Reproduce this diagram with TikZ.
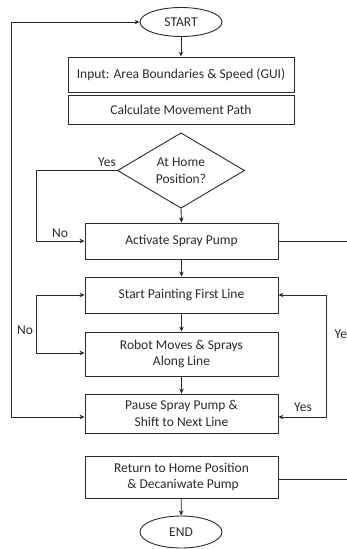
\documentclass[tikz,border=0pt]{standalone}
\usepackage{fontspec}
\setmainfont{Carlito}
\usetikzlibrary{shapes.geometric,arrows.meta}
\definecolor{ink}{HTML}{2A2A2A}
\begin{document}
\begin{tikzpicture}[x=1pt,y=-1pt,
  every node/.style={font=\fontsize{13.5}{16.5}\selectfont, text=ink},
  box/.style={draw=ink, line width=0.9pt, rectangle, minimum width=193pt, inner sep=0pt, align=center},
  term/.style={draw=ink, line width=0.9pt, ellipse, minimum width=82pt, inner sep=0pt},
  dec/.style={draw=ink, line width=0.9pt, diamond, minimum width=127pt, minimum height=75pt, inner sep=0pt, align=center},
  conn/.style={draw=ink, line width=0.9pt},
  arr/.style={conn, -{Stealth[length=5pt,width=4.5pt]}},
  arrb/.style={conn, {Stealth[length=5pt,width=4.5pt]}-{Stealth[length=5pt,width=4.5pt]}},
  lbl/.style={inner sep=0pt}
]
\clip (0,0) rectangle (347,549);
\useasboundingbox (0,0) rectangle (347,549);
\fill[white] (0,0) rectangle (347,549);

\node[term, minimum height=29pt] (start) at (181,22) {START};
\node[box, minimum width=226pt, minimum height=35pt] (input) at (181,74.5) {Input: Area Boundaries \& Speed (GUI)};
\node[box, minimum width=226pt, minimum height=29pt] (calc) at (181,109.5) {Calculate Movement Path};
\node[dec] (dia) at (181,170.5) {At Home\\Position?};
\node[box, minimum height=36pt] (act) at (181.5,241) {Activate Spray Pump};
\node[box, minimum height=36pt] (paint) at (181.5,295) {Start Painting First Line};
\node[box, minimum height=44pt] (robot) at (181.5,354) {Robot Moves \& Sprays\\Along Line};
\node[box, minimum height=39pt] (pause) at (181.5,413.5) {Pause Spray Pump \&\\Shift to Next Line};
\node[box, minimum height=42pt] (ret) at (181.5,477) {Return to Home Position\\\ \& Decaniwate Pump};
\node[term, minimum height=32pt] (end) at (181,532) {END};

\coordinate (actout) at (347,241);
\coordinate (retout) at (347,479);

\draw[arr] (start) -- (input);
\draw[arr] (dia.south) -- (act.north);
\draw[arr] (act) -- (paint);
\draw[arr] (paint) -- (robot);
\draw[arr] (robot) -- (pause);
\draw[arr] (ret) -- (end);

\draw[arrb] ([yshift=-3.5pt]pause.west) -- ++(-73,0) |- (start.west);
\draw[arr] (dia.west) -- ++(-81,0) |- (act.west);
\draw[arrb] (paint.west) -- ++(-48,0) |- ([yshift=1pt]robot.west);
\draw[arrb] (paint.east) -- ++(47.5,0) |- ([yshift=-3.5pt]pause.east);
\draw[conn] (act.east) -- (actout);
\draw[conn] ([yshift=-2pt]ret.east) -- (retout);

\node[lbl] (lyes1) at (107,162) {Yes};
\node[lbl] (lno1) at (60,233) {No};
\node[lbl] (lno2) at (25,330) {No};
\node[lbl, anchor=west] (lyes2) at (334.5,334) {Yes};
\node[lbl] (lyes3) at (303,407) {Yes};
\end{tikzpicture}
\end{document}
